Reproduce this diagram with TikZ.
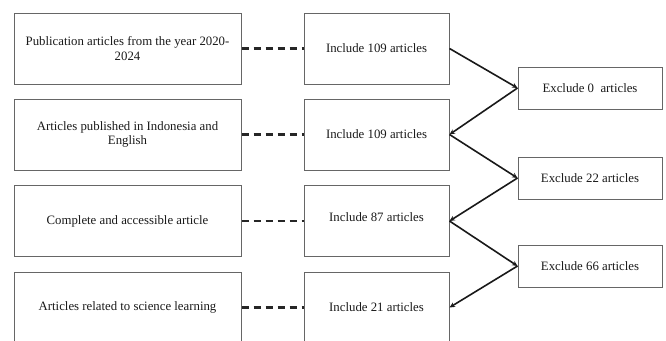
\documentclass[tikz,border=0pt]{standalone}
\usepackage{fontspec}
\setmainfont{Liberation Serif}
\usetikzlibrary{arrows.meta}
\begin{document}
\begin{tikzpicture}[x=1pt,y=-1pt,
  box/.style={draw=black!60,line width=1pt,inner sep=0pt,align=center,text=black!90,
    font=\fontsize{12.8}{14.5}\selectfont},
  leftbox/.style={box,minimum width=227pt,minimum height=71pt},
  midbox/.style={box,minimum width=145pt,minimum height=71pt},
  exbox/.style={box,minimum width=144pt,minimum height=42pt},
  dashline/.style={line width=2.2pt,dash pattern=on 7pt off 5pt,black!85},
  flow/.style={line width=1.6pt,-{Stealth[length=5.5pt,width=5pt]},black!90}]
\useasboundingbox (0,0) rectangle (666,340);
\clip (0,0) rectangle (666,340);
\node[leftbox] (l1) at (127.5,48.5) {Publication articles from the year 2020-\\2024};
\node[leftbox] (l2) at (127.5,134.5) {Articles published in Indonesia and\\English};
\node[leftbox] (l3) at (127.5,221) {Complete and accessible article};
\node[leftbox] (l4) at (127.5,307.5) {Articles related to science learning};
\node[midbox] (m1) at (376.5,48.5) {Include 109 articles};
\node[midbox] (m2) at (376.5,134.5) {Include 109 articles};
\node[midbox] (m3) at (376.5,221) {\raisebox{7pt}{Include 87 articles}};
\node[midbox] (m4) at (376.5,307.5) {Include 21 articles};
\node[exbox] (e1) at (590,88) {Exclude 0~ articles};
\node[exbox] (e2) at (590,178) {Exclude 22 articles};
\node[exbox] (e3) at (590,266) {Exclude 66 articles};
\foreach \i in {1,2,3,4}{\draw[dashline] (l\i.east) -- (m\i.west);}
\draw[flow] (m1.east) -- (e1.west);
\draw[flow] (e1.west) -- (m2.east);
\draw[flow] (m2.east) -- (e2.west);
\draw[flow] (e2.west) -- (m3.east);
\draw[flow] (m3.east) -- (e3.west);
\draw[flow] (e3.west) -- (m4.east);
\end{tikzpicture}
\end{document}
